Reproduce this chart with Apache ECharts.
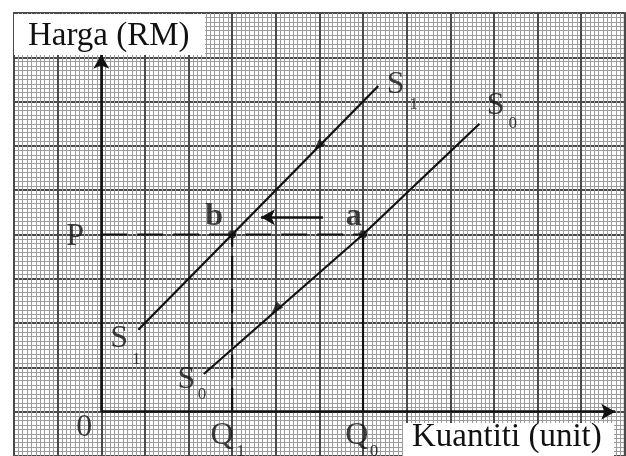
<!DOCTYPE html>
<html>
<head>
<meta charset="utf-8">
<script src="https://cdn.jsdelivr.net/npm/echarts@6/dist/echarts.min.js"></script>
<style>
  html, body { margin: 0; padding: 0; background: #fff; }
  #chart { width: 626px; height: 456px; }
</style>
</head>
<body>
<div id="chart"></div>
<script>
// everything is measured in big graph-paper squares
const s0Line = [[2.35, 0.85], [6, 4], [8.67, 6.5]];
const s1Line = [[0.85, 1.85], [3, 4], [6.35, 7.35]];
const pointA = [6, 4];
const pointB = [3, 4];
const priceP = 4;
const qtyQ1 = 3;
const qtyQ0 = 6;
const curveMarks = [[4.97, 5.99], [4.0, 2.32]];
const shiftArrow = [[5.08, 4.39], [3.66, 4.39]];
const yAxisTop = 8.06;
const xAxisEnd = 11.78;

// text on the diagram
const bigText = [
  ['S', 6.75, 7.39], ['S', 9.04, 6.9], ['S', 0.41, 1.65], ['S', 1.95, 0.73],
  ['Q', 2.77, -0.53], ['Q', 5.86, -0.53], ['P', -0.6, 3.96], ['0', -0.39, -0.36]
];
const subText = [
  ['1', 7.16, 6.93], ['0', 9.43, 6.5], ['1', 0.8, 1.18], ['0', 2.31, 0.38],
  ['1', 3.2, -0.91], ['0', 6.25, -0.91]
];
const pointText = [['b', 2.59, 4.41], ['a', 5.79, 4.41]];

const ink = '#111';
const serif = '"Liberation Serif", "Times New Roman", serif';

const chart = echarts.init(document.getElementById('chart'));

const paperAxis = (min, max) => ({
  type: 'value',
  min: min,
  max: max,
  interval: 1,
  axisLine: { show: false },
  axisTick: { show: false },
  axisLabel: { show: false },
  splitLine: { show: true, lineStyle: { color: '#4a4a4a', width: 2 } },
  minorTick: { show: false, splitNumber: 10 },
  minorSplitLine: { show: true, lineStyle: { color: '#9c9c9c', width: 1 } }
});

const plainLine = (data, extra) => Object.assign({
  type: 'line',
  data: data,
  showSymbol: false,
  silent: true,
  animation: false,
  lineStyle: { color: ink, width: 2.2 },
  z: 5
}, extra || {});

const textSeries = (items, size, weight) => ({
  type: 'scatter',
  silent: true,
  animation: false,
  symbolSize: 1,
  itemStyle: { color: 'rgba(0,0,0,0)' },
  z: 8,
  label: {
    show: true,
    position: 'inside',
    color: ink,
    fontFamily: serif,
    fontSize: size,
    fontWeight: weight,
    formatter: p => p.data[2]
  },
  data: items.map(t => [t[1], t[2], t[0]])
});

const arrowSeg = (from, to) => [{ coord: from }, { coord: to }];

chart.setOption({
  backgroundColor: '#fff',
  animation: false,
  grid: {
    left: 14, top: 13, width: 610.8, height: 449,
    show: true, borderColor: '#4a4a4a', borderWidth: 2, backgroundColor: '#fff'
  },
  xAxis: paperAxis(-2, 12),
  yAxis: paperAxis(-1, 9),
  series: [
    plainLine(s1Line),
    plainLine(s0Line),
    // dashed guides at P and Q1, solid drop at Q0
    plainLine([[0, priceP], pointA], { lineStyle: { color: ink, width: 2.2, type: [26, 10] } }),
    plainLine([[qtyQ1, 0], pointB], { lineStyle: { color: ink, width: 2.2, type: [24, 9] } }),
    plainLine([[qtyQ0, 0], pointA]),
    {
      type: 'scatter',
      silent: true,
      symbol: 'triangle',
      symbolSize: [9, 12],
      symbolRotate: 135,
      itemStyle: { color: ink },
      z: 6,
      data: curveMarks
    },
    {
      type: 'scatter',
      silent: true,
      symbolSize: 8,
      itemStyle: { color: ink },
      z: 6,
      data: [pointA, pointB]
    },
    {
      type: 'line',
      data: [],
      silent: true,
      markLine: {
        silent: true,
        animation: false,
        symbol: ['none', 'arrow'],
        symbolSize: [12, 14],
        label: { show: false },
        lineStyle: { color: ink, width: 2.6, type: 'solid' },
        emphasis: { disabled: true },
        data: [
          arrowSeg([0, 0], [0, yAxisTop]),
          arrowSeg([0, 0], [xAxisEnd, 0]),
          arrowSeg(shiftArrow[0], shiftArrow[1])
        ]
      }
    },
    textSeries(bigText, 32, 'normal'),
    textSeries(subText, 17, 'normal'),
    textSeries(pointText, 32, 'bold')
  ],
  graphic: [
    { type: 'rect', shape: { x: 14, y: 14, width: 191, height: 41 }, style: { fill: '#fff' }, z: 100 },
    { type: 'text', x: 28, y: 36, z: 101,
      style: { text: 'Harga (RM)', font: '33px ' + serif, fill: ink, verticalAlign: 'middle', align: 'left' } },
    { type: 'rect', shape: { x: 403, y: 423, width: 211, height: 40 }, style: { fill: '#fff' }, z: 100 },
    { type: 'text', x: 412, y: 437, z: 101,
      style: { text: 'Kuantiti (unit)', font: '33px ' + serif, fill: ink, verticalAlign: 'middle', align: 'left' } }
  ]
});
</script>
</body>
</html>
